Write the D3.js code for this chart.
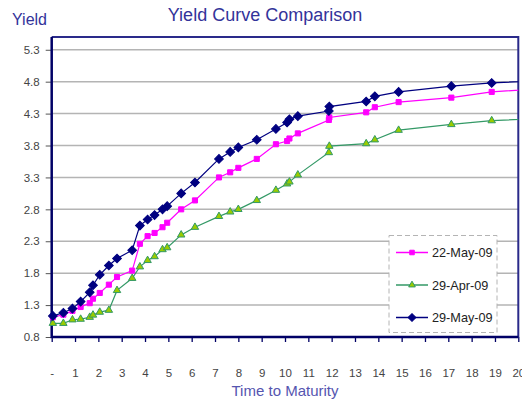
<!DOCTYPE html>
<html>
<head>
<meta charset="utf-8">
<script src="https://cdn.jsdelivr.net/npm/d3@7"></script>
<style>
  body { margin: 0; background: #fff; }
  svg { font-family: Arial, "Liberation Sans", sans-serif; }
</style>
</head>
<body>
<svg class="yieldChart" width="522" height="401"></svg>
<script>
// years to maturity, shared by the three curves (last one sits past the axis end)
let maturities = [0.05, 0.5, 0.89, 1.24, 1.63, 1.77, 2.06, 2.45, 2.8, 3.45, 3.78, 4.11, 4.41, 4.75, 4.95,
  5.55, 6.14, 7.17, 7.65, 8.0, 8.79, 9.61, 10.09, 10.19, 10.55, 11.88, 11.9, 13.48, 13.85, 14.87, 17.13, 18.86, 29];

let may22 = [1.11, 1.15, 1.21, 1.27, 1.33, 1.40, 1.49, 1.62, 1.74, 1.84, 2.26, 2.38, 2.43, 2.52, 2.59,
  2.80, 2.94, 3.30, 3.38, 3.45, 3.59, 3.82, 3.87, 3.91, 3.99, 4.20, 4.24, 4.32, 4.40, 4.48, 4.55, 4.64, 4.89];

let apr29 = [1.015, 1.015, 1.07, 1.08, 1.11, 1.145, 1.19, 1.22, 1.53, 1.72, 1.90, 2.00, 2.06, 2.17, 2.20,
  2.40, 2.52, 2.69, 2.76, 2.80, 2.94, 3.10, 3.20, 3.23, 3.34, 3.69, 3.79, 3.83, 3.89, 4.04, 4.13, 4.19, 4.36];

let may29 = [1.13, 1.18, 1.245, 1.355, 1.50, 1.61, 1.775, 1.92, 2.03, 2.16, 2.545, 2.64, 2.71, 2.80, 2.85,
  3.05, 3.22, 3.59, 3.70, 3.77, 3.89, 4.06, 4.16, 4.21, 4.26, 4.34, 4.41, 4.49, 4.57, 4.64, 4.73, 4.78, 4.95];

let seriesNames = ['22-May-09', '29-Apr-09', '29-May-09'];
let yTicks = [0.8, 1.3, 1.8, 2.3, 2.8, 3.3, 3.8, 4.3, 4.8, 5.3];
let xTicks = d3.range(0, 21);

let SVG = d3.select('svg.yieldChart');
let plot = {left: 51.7, right: 518.3, top: 37, bottom: 337};

let x = d3.scaleLinear().domain([0, 20]).range([plot.left, plot.right]);
let y = d3.scaleLinear().domain([0.8, 5.5]).range([plot.bottom, plot.top]);

// diamonds are squares turned 45 degrees, like the excel marker
let styles = [
  {line: '#ff00ff', fill: '#ff00ff', stroke: '#ff00ff', symbol: d3.symbolSquare, size: 26, rot: 0},
  {line: '#339966', fill: '#99cc00', stroke: '#339966', symbol: d3.symbolTriangle, size: 24, rot: 0},
  {line: '#000080', fill: '#000080', stroke: '#000080', symbol: d3.symbolSquare, size: 38, rot: 45}
];

let series = [may22, apr29, may29].map((vals, i) => ({
  name: seriesNames[i],
  style: styles[i],
  points: maturities.map((m, j) => ({t: m, v: vals[j]}))
}));

// titles
SVG.append('text')
  .attr('x', 265).attr('y', 21)
  .attr('text-anchor', 'middle')
  .style('font-size', '18px')
  .style('fill', '#33339a')
  .text('Yield Curve Comparison');

SVG.append('text')
  .attr('x', 12).attr('y', 25)
  .style('font-size', '16px')
  .style('fill', '#33339a')
  .text('Yield');

SVG.append('text')
  .attr('x', 285).attr('y', 396)
  .attr('text-anchor', 'middle')
  .style('font-size', '15px')
  .style('fill', '#5555b0')
  .text('Time to Maturity');

// gridlines
SVG.append('g')
  .attr('class', 'grid')
  .selectAll('line')
  .data(yTicks.filter(d => d > 0.8))
  .enter()
  .append('line')
  .attr('x1', plot.left).attr('x2', plot.right)
  .attr('y1', d => y(d)).attr('y2', d => y(d))
  .style('stroke', '#b4b4b4')
  .style('stroke-width', '1.5px');

// plot border top/right
SVG.append('path')
  .attr('d', `M${plot.left},${plot.top}H${plot.right}V${plot.bottom}`)
  .style('fill', 'none')
  .style('stroke', '#2a2a8a')
  .style('stroke-width', '2px');

// y axis
let yAxis = SVG.append('g')
  .attr('transform', `translate(${plot.left},0)`)
  .call(d3.axisLeft(y).tickValues(yTicks).tickFormat(d3.format('.1f')).tickSize(6).tickPadding(6));
yAxis.select('.domain').remove();
yAxis.selectAll('line').style('stroke', '#555').style('stroke-width', '1px');
yAxis.selectAll('text').style('font-size', '11.5px').style('fill', '#444').style('font-family', 'Arial, "Liberation Sans", sans-serif');

// x axis
let xAxis = SVG.append('g')
  .attr('transform', `translate(0,${plot.bottom})`)
  .call(d3.axisBottom(x).tickValues(xTicks).tickFormat(d => d == 0 ? '-' : d).tickSize(5).tickPadding(27));
xAxis.select('.domain').remove();
xAxis.selectAll('line').style('stroke', '#000066').style('stroke-width', '1.3px');
xAxis.selectAll('text').style('font-size', '11.5px').style('fill', '#444').style('font-family', 'Arial, "Liberation Sans", sans-serif');

// axis lines
SVG.append('path')
  .attr('d', `M${plot.left},${plot.top}V${plot.bottom}H${plot.right}`)
  .style('fill', 'none')
  .style('stroke', '#000066')
  .style('stroke-width', '2.5px');

// clip on the right so the 30y point runs off the axis
SVG.append('clipPath')
  .attr('id', 'plotClip')
  .append('rect')
  .attr('x', 0).attr('y', 0)
  .attr('width', plot.right).attr('height', plot.bottom + 10);

let line = d3.line().x(d => x(d.t)).y(d => y(d.v));

let seriesG = SVG.append('g')
  .attr('clip-path', 'url(#plotClip)')
  .selectAll('g.series')
  .data(series)
  .enter()
  .append('g')
  .attr('class', 'series');

seriesG.append('path')
  .attr('d', d => line(d.points))
  .style('fill', 'none')
  .style('stroke', d => d.style.line)
  .style('stroke-width', '1.2px');

seriesG.each(function(s){
  d3.select(this)
    .selectAll('path.marker')
    .data(s.points)
    .enter()
    .append('path')
    .attr('class', 'marker')
    .attr('d', d3.symbol().type(s.style.symbol).size(s.style.size))
    .attr('transform', d => `translate(${x(d.t)},${y(d.v)}) rotate(${s.style.rot})`)
    .style('fill', s.style.fill)
    .style('stroke', s.style.stroke)
    .style('stroke-width', '1px');
});

// legend
let legend = SVG.append('g')
  .attr('class', 'legendContainer')
  .attr('transform', 'translate(389,235.5)');

legend.append('rect')
  .attr('width', 108).attr('height', 97)
  .style('fill', '#fff')
  .style('stroke', '#b4b4b4')
  .style('stroke-dasharray', '5,3')
  .style('stroke-width', '1px');

let legendComp = legend.selectAll('g.legendComponent')
  .data(series)
  .enter()
  .append('g')
  .attr('class', 'legendComponent')
  .attr('transform', (d, i) => `translate(0,${17 + i * 32.5})`);

legendComp.append('line')
  .attr('x1', 7).attr('x2', 39)
  .style('stroke', d => d.style.line)
  .style('stroke-width', '1.5px');

legendComp.append('path')
  .attr('d', d => d3.symbol().type(d.style.symbol).size(d.style.size * 0.8)())
  .attr('transform', d => `translate(23,0) rotate(${d.style.rot})`)
  .style('fill', d => d.style.fill)
  .style('stroke', d => d.style.stroke);

legendComp.append('text')
  .attr('x', 43).attr('y', 4.5)
  .style('font-size', '12.7px')
  .style('fill', '#222')
  .text(d => d.name);
</script>
</body>
</html>
